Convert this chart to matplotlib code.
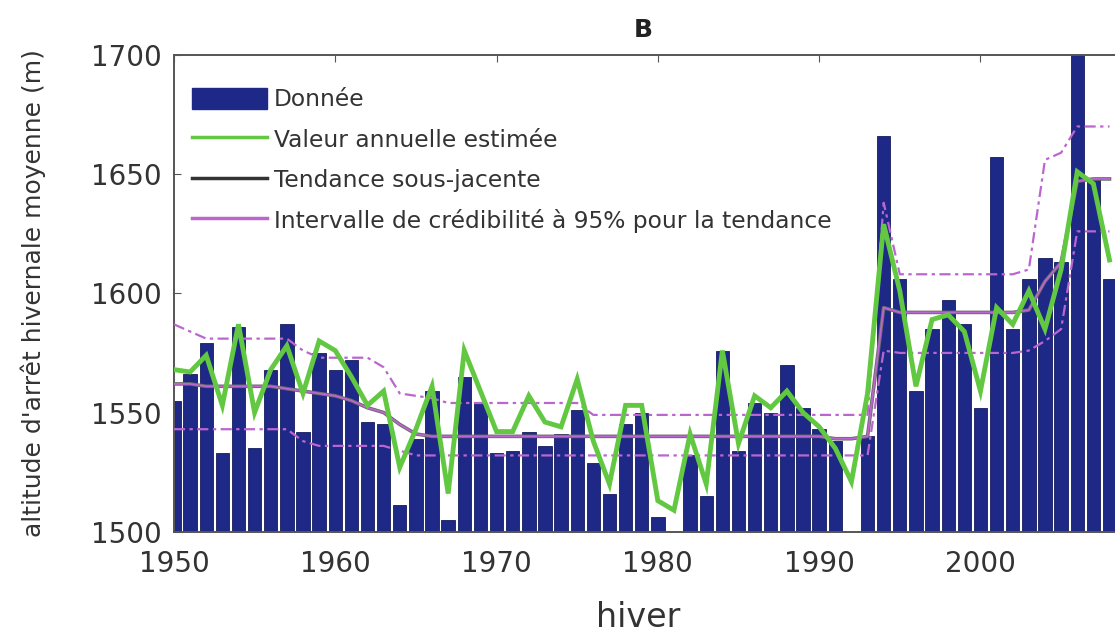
import numpy as np
import matplotlib
matplotlib.use("Agg")
import matplotlib.pyplot as plt
from matplotlib.patches import Patch
from matplotlib.lines import Line2D

# winters 1950-2008
years = list(range(1950, 2009))

# observed mean winter stop altitude (m); nan = no data
donnee = [1555, 1566, 1579, 1533, 1586, 1535, 1568, 1587, 1542, 1575,
          1568, 1572, 1546, 1545, 1511, 1539, 1559, 1505, 1565, 1554,
          1533, 1534, 1542, 1536, 1541, 1551, 1529, 1516, 1545, 1550,
          1506, np.nan, 1532, 1515, 1576, 1534, 1554, 1550, 1570, 1552,
          1543, 1538, np.nan, 1540, 1666, 1606, 1559, 1585, 1597, 1587,
          1552, 1657, 1585, 1606, 1615, 1613, 1710, 1648, 1606]

# estimated annual value
valeur = [1568, 1567, 1574, 1553, 1587, 1550, 1568, 1578, 1558, 1580,
          1576, 1565, 1553, 1559, 1527, 1543, 1561, 1516, 1576, 1559,
          1542, 1542, 1557, 1546, 1544, 1564, 1538, 1520, 1553, 1553,
          1513, 1509, 1541, 1520, 1576, 1537, 1557, 1552, 1559, 1550,
          1544, 1535, 1521, 1558, 1629, 1601, 1561, 1589, 1591, 1584,
          1559, 1594, 1587, 1601, 1585, 1610, 1651, 1646, 1614]

# underlying trend and its 95% credible interval
tendance = [1562, 1562, 1561, 1561, 1561, 1561, 1561, 1560, 1559, 1558,
            1557, 1555, 1552, 1550, 1545, 1541, 1540, 1540, 1540, 1540,
            1540, 1540, 1540, 1540, 1540, 1540, 1540, 1540, 1540, 1540,
            1540, 1540, 1540, 1540, 1540, 1540, 1540, 1540, 1540, 1540,
            1540, 1539, 1539, 1540, 1594, 1592, 1592, 1592, 1592, 1592,
            1592, 1592, 1592, 1593, 1605, 1613, 1647, 1648, 1648]

ic_haut = [1587, 1584, 1581, 1581, 1581, 1581, 1581, 1581, 1576, 1573,
           1573, 1573, 1573, 1569, 1558, 1557, 1556, 1554, 1554, 1554,
           1554, 1554, 1554, 1554, 1554, 1554, 1549, 1549, 1549, 1549,
           1549, 1549, 1549, 1549, 1549, 1549, 1549, 1549, 1549, 1549,
           1549, 1549, 1549, 1549, 1638, 1608, 1608, 1608, 1608, 1608,
           1608, 1608, 1608, 1610, 1656, 1659, 1670, 1670, 1670]

ic_bas = [1543, 1543, 1543, 1543, 1543, 1543, 1543, 1543, 1538, 1536,
          1536, 1536, 1536, 1536, 1534, 1532, 1532, 1532, 1532, 1532,
          1532, 1532, 1532, 1532, 1532, 1532, 1532, 1532, 1532, 1532,
          1532, 1532, 1532, 1532, 1532, 1532, 1532, 1532, 1532, 1532,
          1532, 1532, 1532, 1532, 1576, 1575, 1575, 1575, 1575, 1575,
          1575, 1575, 1575, 1576, 1580, 1585, 1626, 1626, 1626]

xticks = [1950, 1960, 1970, 1980, 1990, 2000]
yticks = [1500, 1550, 1600, 1650, 1700]

navy = '#1e2887'
green = '#62c842'
violet = '#bb66cf'
txt = '#333333'

fig = plt.figure(figsize=(11.15, 6.32), dpi=100)
# axes run past the right edge of the figure
ax = fig.add_axes([0.156, 0.1587, 0.868, 0.7543])

ax.bar(years, donnee, width=0.83, color=navy, edgecolor='#141c5e',
       linewidth=0.6, zorder=2)
ax.plot(years, tendance, color='#6b6b6b', lw=2.6, zorder=3)
ax.plot(years, tendance, color=violet, lw=1.3, zorder=4)
dashdot = (0, (5, 2, 1.5, 2))
ax.plot(years, ic_haut, color=violet, lw=1.6, ls=dashdot, zorder=4)
ax.plot(years, ic_bas, color=violet, lw=1.6, ls=dashdot, zorder=4)
ax.plot(years, valeur, color=green, lw=3.5, zorder=5, solid_joinstyle='miter')

ax.set_xlim(1950, 2010)
ax.set_ylim(1500, 1700)
ax.set_xticks(xticks)
ax.set_yticks(yticks)

for s in ax.spines.values():
    s.set_color('#555555')
    s.set_linewidth(1.4)
ax.tick_params(direction='in', top=True, right=True, length=5,
               color='#555555', labelsize=20, labelcolor=txt)
ax.tick_params(axis='x', pad=13)
ax.tick_params(axis='y', pad=9)

ax.set_xlabel('hiver', fontsize=24, color=txt)
ax.xaxis.set_label_coords(0.48, -0.145)
ax.set_ylabel("altitude d'arrêt hivernale moyenne (m)", fontsize=18,
              color=txt)
ax.yaxis.set_label_coords(-0.132, 0.5)

fig.text(0.577, 0.952, 'B', fontsize=18, fontweight='bold', ha='center',
         va='center', color='#222222')

handles = [Patch(facecolor=navy, edgecolor=navy, label='Donnée'),
           Line2D([], [], color=green, lw=2.5, label='Valeur annuelle estimée'),
           Line2D([], [], color='#333333', lw=2.5, label='Tendance sous-jacente'),
           Line2D([], [], color=violet, lw=2.5,
                  label='Intervalle de crédibilité à 95% pour la tendance')]
leg = ax.legend(handles=handles, loc='upper left', frameon=False,
                bbox_to_anchor=(-0.005, 0.98), borderaxespad=0.6,
                handlelength=3.2, handleheight=1.0, handletextpad=0.3,
                labelspacing=0.72, prop={'size': 16.8})
for t in leg.get_texts():
    t.set_color(txt)

fig.savefig('out.png', dpi=100)
